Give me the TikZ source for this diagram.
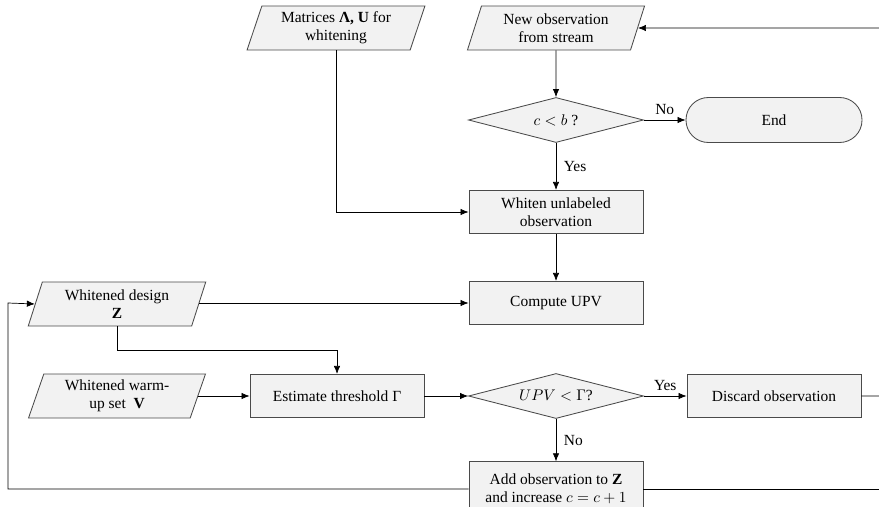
\documentclass[tikz,border=0pt]{standalone}
\usepackage{amsmath}
\usepackage{fontspec}
\setmainfont{Liberation Serif}
\usepackage{tikz}
\usetikzlibrary{shapes.geometric,arrows.meta}
\definecolor{boxfill}{HTML}{F2F2F2}
\definecolor{boxline}{HTML}{4A4A4A}
\begin{document}
\begin{tikzpicture}[x=0.025cm,y=-0.025cm,font=\fontsize{11}{12.5}\selectfont,
	proc/.style={draw=boxline,fill=boxfill,line width=0.6pt,rectangle,align=center,minimum width=4.35cm,minimum height=1.08cm,inner sep=1pt},
	data/.style={draw=boxline,fill=boxfill,line width=0.6pt,trapezium,trapezium left angle=72,trapezium right angle=108,trapezium stretches=true,align=center,minimum width=4.45cm,minimum height=1.1cm,inner sep=1pt},
	test/.style={draw=boxline,fill=boxfill,line width=0.6pt,diamond,aspect=3.9,align=center,minimum width=4.375cm,minimum height=1.125cm,inner sep=1pt},
	term/.style={draw=boxline,fill=boxfill,line width=0.6pt,rectangle,rounded corners=0.56cm,minimum width=4.4cm,minimum height=1.125cm},
	flow/.style={line width=0.5pt,-{Latex[length=2mm,width=1.6mm]}},
	plain/.style={line width=0.5pt}]
	\useasboundingbox (0,0) rectangle (879,506);
	\clip (0,0) rectangle (879,506);
	\node[data] (matrices) at (336,28) {Matrices \textbf{Λ, U} for\\whitening};
	\node[data] (newobs) at (556,28) {New observation\\from stream};
	\node[test] (cb) at (556,120) {$c<b$ ?};
	\node[term] (stop) at (774,120) {End};
	\node[proc] (whiten) at (556,212) {Whiten unlabeled\\observation};
	\node[data] (zdesign) at (117,304) {Whitened design\\\textbf{Z}};
	\node[proc] (upv) at (556,303) {Compute UPV};
	\node[data] (warmup) at (117,396) {Whitened warm-\\up set\enspace\textbf{V}};
	\node[proc] (thresh) at (337,396) {Estimate threshold Γ};
	\node[test] (upvtest) at (556,396) {$UPV<\Gamma$?};
	\node[proc] (discard) at (774,396) {Discard observation};
	\node[proc,minimum height=1.36cm] (addobs) at (556,489) {Add observation to \textbf{Z}\\and increase $c=c+1$};
	\coordinate (rloop) at (900,28);
	\coordinate (lloop) at (8,303);
	\draw[flow] (newobs) -- (cb);
	\draw[flow] (cb) -- node[above] {No} (stop);
	\draw[flow] (cb) -- node[right,xshift=2pt] {Yes} (whiten);
	\draw[flow] (matrices.south) |- (whiten.west);
	\draw[flow] (whiten) -- (upv);
	\draw[flow] (zdesign.east |- upv.west) -- (upv.west);
	\draw[flow] (zdesign.south) -- ++(0,24) -| (thresh.north);
	\draw[flow] (warmup.east |- thresh.west) -- (thresh.west);
	\draw[flow] (thresh) -- (upvtest);
	\draw[flow] (upvtest) -- node[above] {Yes} (discard);
	\draw[flow] (upvtest) -- node[right,xshift=2pt] {No} (addobs);
	\draw[flow] (discard.east) -| (rloop) -- (newobs.east);
	\draw[plain] (addobs.east) -- (addobs.east -| rloop);
	\draw[flow] (addobs.west) -| (lloop) -- (zdesign.west);
\end{tikzpicture}
\end{document}
